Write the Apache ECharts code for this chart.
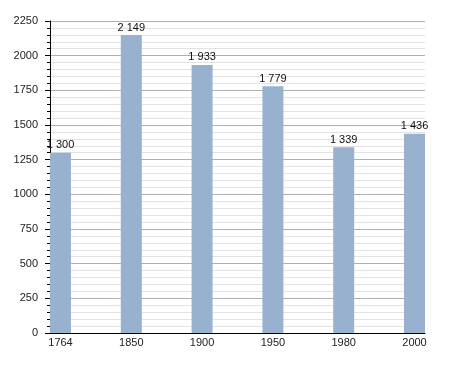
<!DOCTYPE html>
<html>
<head>
<meta charset="utf-8">
<script src="https://cdn.jsdelivr.net/npm/echarts@6/dist/echarts.min.js"></script>
<style>
html,body{margin:0;padding:0;background:#fff;}
#chart{width:455px;height:373px;}
</style>
</head>
<body>
<div id="chart"></div>
<script>
var categories = ['1764', '1850', '1900', '1950', '1980', '2000'];
var population = [1300, 2149, 1933, 1779, 1339, 1436];
var yTicks = [0, 250, 500, 750, 1000, 1250, 1500, 1750, 2000, 2250];

var FONT = '"Liberation Sans", Arial, sans-serif';
var chart = echarts.init(document.getElementById('chart'), null, {renderer: 'canvas'});

function fmt(v) {
  var s = String(v);
  return s.replace(/\B(?=(\d{3})+(?!\d))/g, ' ');
}

var seriesData = population.map(function (v, i) { return [i, v]; });

chart.setOption({
  animation: false,
  backgroundColor: '#ffffff',
  grid: {left: 50, right: 30, top: 21, bottom: 40, containLabel: false},
  xAxis: {
    type: 'value',
    min: -0.1483,
    max: categories.length - 1 + 0.1483,
    axisLine: {show: true, onZero: false, lineStyle: {color: '#000', width: 1}},
    axisTick: {show: false},
    splitLine: {show: false},
    axisLabel: {
      customValues: categories.map(function (c, i) { return i; }),
      formatter: function (v) { return categories[Math.round(v)]; },
      color: '#222', fontSize: 11, fontFamily: FONT, margin: 4
    }
  },
  yAxis: {
    type: 'value',
    min: yTicks[0],
    max: yTicks[yTicks.length - 1],
    interval: 250,
    axisLine: {show: true, onZero: false, lineStyle: {color: '#000', width: 1}},
    axisTick: {show: true, inside: false, length: 5, lineStyle: {color: '#000'}},
    minorTick: {show: true, splitNumber: 5, length: 3, lineStyle: {color: '#000'}},
    splitLine: {show: true, lineStyle: {color: '#b0b0b0', width: 1}},
    minorSplitLine: {show: true, lineStyle: {color: '#e3e3e3', width: 1}},
    axisLabel: {
      color: '#222', fontSize: 11, fontFamily: FONT, margin: 12,
      formatter: function (v) { return String(v); }
    }
  },
  series: [{
    type: 'bar',
    data: seriesData,
    barWidth: 21,
    itemStyle: {color: '#98b1cf'},
    label: {
      show: true, position: 'top', distance: 2,
      color: '#111', fontSize: 11, fontFamily: FONT,
      formatter: function (p) { return fmt(p.value[1]); }
    }
  }]
});
</script>
</body>
</html>
